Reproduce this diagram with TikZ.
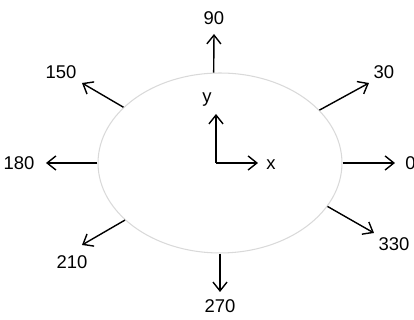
\documentclass[tikz,border=0pt]{standalone}
\usepackage{fontspec}
\setmainfont{Liberation Sans}
\usetikzlibrary{arrows.meta}
\usetikzlibrary{shapes.geometric}

\tikzset{
    arr/.style={line width=0.8pt, -{Straight Barb[length=5pt, width=8pt]}},
    lbl/.style={inner sep=0pt, font=\fontsize{10.5}{12}\selectfont},
}

\begin{document}
\begin{tikzpicture}[x=0.02cm, y=-0.02cm]
    \useasboundingbox (0,0) rectangle (414,320);
    % the ellipse
    \node[ellipse, draw=black!15, line width=0.6pt, minimum width=4.88cm,
          minimum height=3.6cm, inner sep=0pt] (circ) at (220,163){};
    % arrow tips
    \coordinate (t90) at (214,34);
    \coordinate (t30) at (369,83);
    \coordinate (t0) at (395,163);
    \coordinate (t330) at (374,233);
    \coordinate (t270) at (220,292);
    \coordinate (t210) at (82,245);
    \coordinate (t180) at (46,163);
    \coordinate (t150) at (82,83);
    % labels
    \node[lbl] (l90) at (214,18){90};
    \node[lbl] (l30) at (384,72){30};
    \node[lbl, anchor=west] (l0) at (405,163){0};
    \node[lbl] (l330) at (394,244){330};
    \node[lbl] (l270) at (220,306){270};
    \node[lbl] (l210) at (72,262){210};
    \node[lbl] (l180) at (19,163){180};
    \node[lbl] (l150) at (61,72){150};
    \draw[arr] (circ.94)--(t90);
    \draw[arr] (circ.28)--(t30);
    \draw[arr] (circ.0)--(t0);
    \draw[arr] (circ.338)--(t330);
    \draw[arr] (circ.270)--(t270);
    \draw[arr] (circ.211)--(t210);
    \draw[arr] (circ.180)--(t180);
    \draw[arr] (circ.150)--(t150);
    % axes in the middle
    \coordinate (o) at (216,163);
    \coordinate (tx) at (258,163);
    \coordinate (ty) at (216,114);
    \node[lbl] (x) at (271,165){x};
    \node[lbl] (y) at (207,100){y};
    \draw[arr] (o)--(tx);
    \draw[arr] (o)--(ty);
\end{tikzpicture}
\end{document}
